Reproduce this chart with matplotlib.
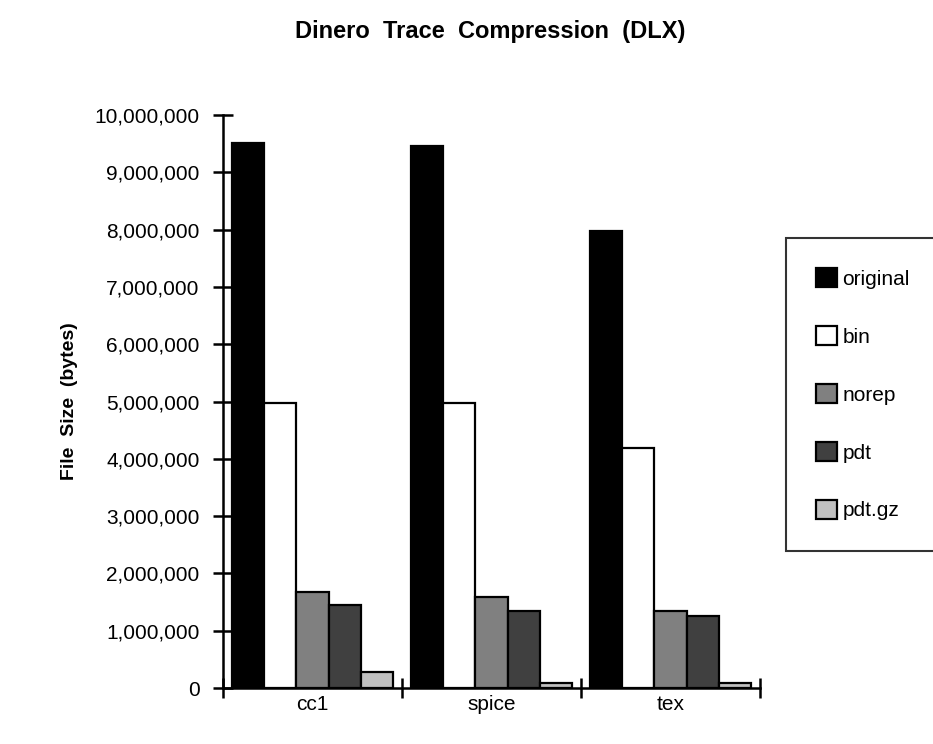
import numpy as np
import matplotlib.pyplot as plt
from matplotlib.ticker import FuncFormatter, FixedLocator

# -------------------------------
# data
# -------------------------------
traces = ["cc1", "spice", "tex"]
series = ["original", "bin", "norep", "pdt", "pdt.gz"]
original = [9510000, 9460000, 7970000]
binary = [4980000, 4970000, 4190000]
norep = [1670000, 1590000, 1340000]
pdt = [1450000, 1350000, 1260000]
pdt_gz = [280000, 90000, 90000]

values = [original, binary, norep, pdt, pdt_gz]
colors = ["#000000", "#ffffff", "#808080", "#404040", "#c0c0c0"]

plt.rcParams["font.family"] = ["Liberation Sans", "DejaVu Sans"]

fig = plt.figure(figsize=(9.33, 7.44), dpi=100)
ax = fig.add_axes([223 / 933, 56 / 744, 537 / 933, 573 / 744])

# -------------------------------
# bars
# -------------------------------
x = np.arange(len(traces)) + 0.5
w = 0.18
for i, (name, vals, col) in enumerate(zip(series, values, colors)):
    ax.bar(x + (i - 2) * w, vals, width=w, color=col, edgecolor="black",
           linewidth=1.6, label=name, zorder=2)

ax.set_xlim(0, 3)
ax.set_ylim(0, 10000000)

# -------------------------------
# axes styling
# -------------------------------
for s in ["top", "right"]:
    ax.spines[s].set_visible(False)
for s in ["left", "bottom"]:
    ax.spines[s].set_linewidth(1.8)

ax.yaxis.set_major_locator(FixedLocator(np.arange(0, 10000001, 1000000)))
ax.yaxis.set_major_formatter(FuncFormatter(lambda v, p: f"{int(v):,}"))
ax.tick_params(axis="y", direction="inout", length=14, width=1.8, pad=10,
               labelsize=15)

ax.xaxis.set_major_locator(FixedLocator([0, 1, 2, 3]))
ax.set_xticklabels([])
ax.set_xticks(x, minor=True)
ax.set_xticklabels(traces, minor=True)
ax.tick_params(axis="x", which="major", direction="inout", length=14, width=1.8)
ax.tick_params(axis="x", which="minor", length=0, pad=5, labelsize=15)

ax.set_ylabel("File  Size  (bytes)", fontsize=14, fontweight="bold", labelpad=12)
fig.text(0.525, 0.957, "Dinero  Trace  Compression  (DLX)", ha="center",
         va="center", fontsize=17, fontweight="bold")

leg = ax.legend(loc="upper left", bbox_to_anchor=(786 / 933, 1 - 238 / 744),
                bbox_transform=fig.transFigure, fontsize=15, frameon=True,
                fancybox=False, handlelength=1.0, handleheight=1.0,
                handletextpad=0.25, labelspacing=1.8, borderpad=1.45,
                borderaxespad=0)
leg.get_frame().set_edgecolor("black")
leg.get_frame().set_linewidth(1.5)

plt.savefig("out.png", dpi=100)
